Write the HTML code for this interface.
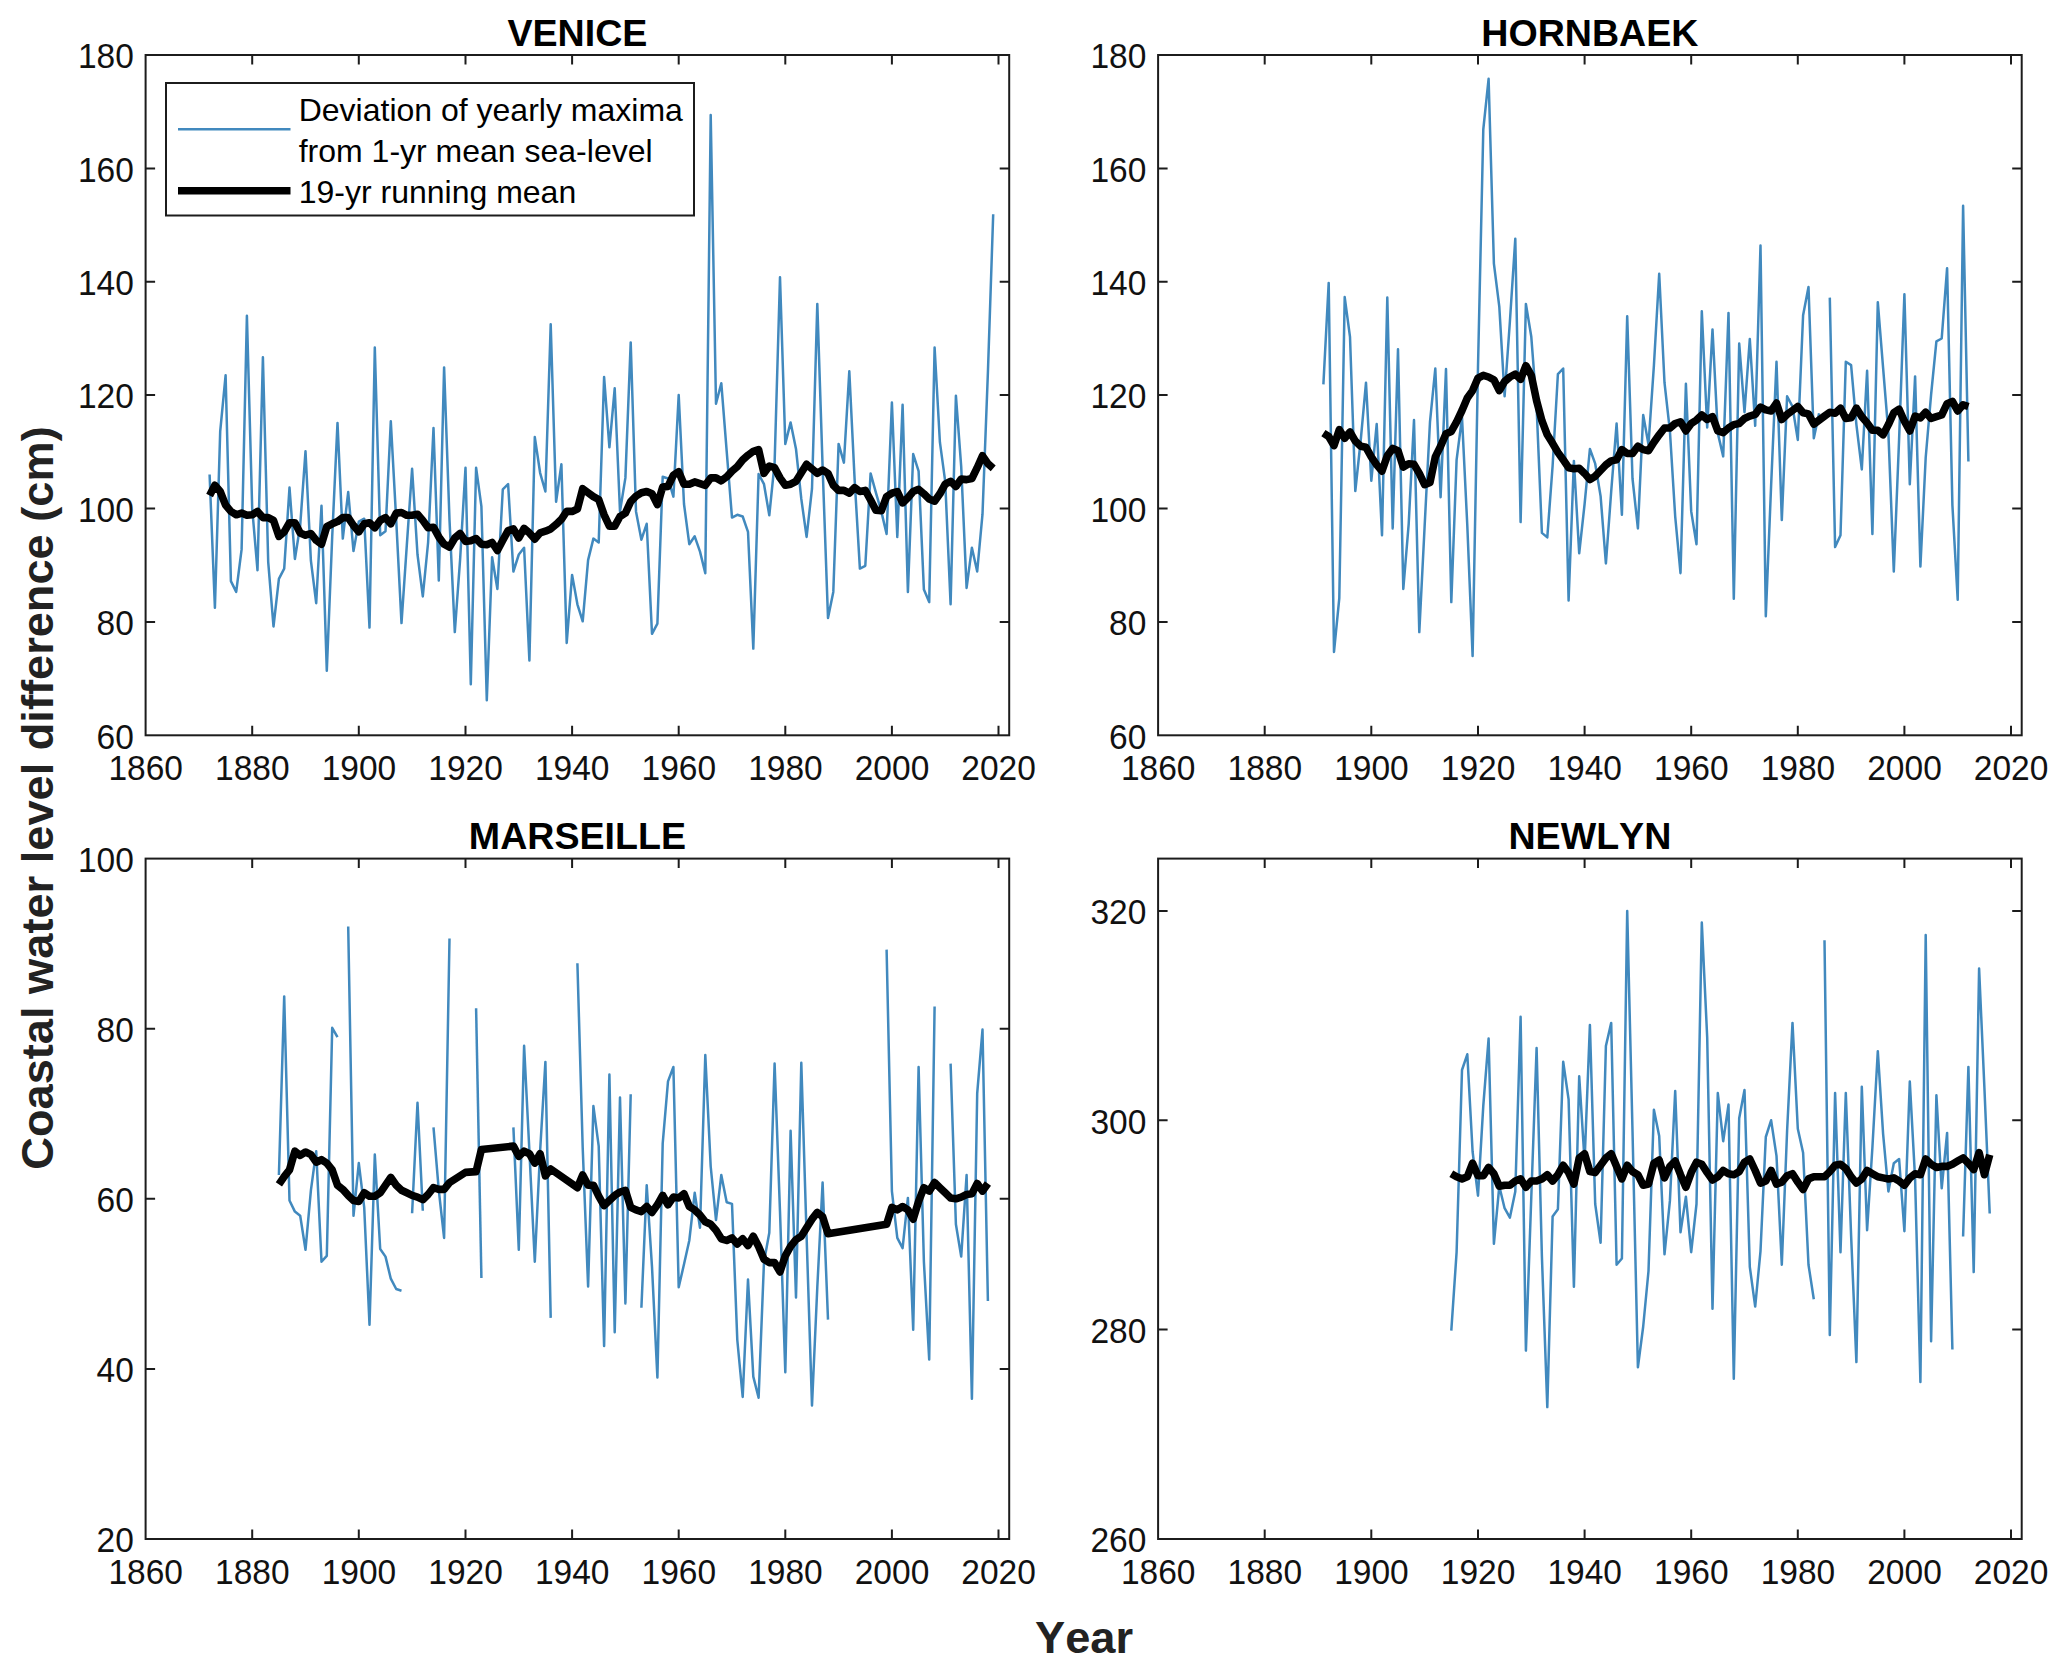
<!DOCTYPE html><html><head><meta charset="utf-8"><title>Coastal water level difference</title>
<style>html,body{margin:0;padding:0;background:#fff}svg{display:block}text{font-kerning:none;font-family:"Liberation Sans",Arial,Helvetica,sans-serif}</style></head><body>
<svg width="2067" height="1674" viewBox="0 0 2067 1674">
<rect width="2067" height="1674" fill="#fff"/>
<g>
<polyline points="209.6,474.5 214.9,607.7 220.2,431.4 225.6,375.3 230.9,581.1 236.2,591.9 241.6,549.4 246.9,315.8 252.2,508.5 257.5,570.3 262.9,357.2 268.2,561.8 273.5,626.5 278.9,578.8 284.2,568.6 289.5,487.6 294.9,559.0 300.2,525.5 305.5,451.3 310.9,560.7 316.2,603.2 321.5,505.7 326.8,670.7 332.2,536.9 337.5,422.9 342.8,538.6 348.2,492.1 353.5,551.1 358.8,521.6 364.2,518.7 369.5,627.6 374.8,347.5 380.2,535.2 385.5,531.2 390.8,421.2 396.2,519.9 401.5,623.1 406.8,545.4 412.1,468.8 417.5,554.5 422.8,596.4 428.1,542.5 433.5,428.0 438.8,580.5 444.1,367.4 449.5,519.9 454.8,632.1 460.1,559.6 465.5,467.7 470.8,684.3 476.1,467.7 481.4,506.3 486.8,700.2 492.1,557.3 497.4,589.0 502.8,489.3 508.1,484.2 513.4,571.5 518.8,554.5 524.1,547.7 529.4,660.5 534.8,437.1 540.1,472.8 545.4,491.5 550.7,324.3 556.1,501.7 561.4,464.3 566.7,642.9 572.1,574.9 577.4,604.3 582.7,621.3 588.1,560.1 593.4,538.6 598.7,542.5 604.1,377.0 609.4,447.3 614.7,388.3 620.0,511.4 625.4,477.9 630.7,342.4 636.0,511.4 641.4,539.7 646.7,523.8 652.0,633.8 657.4,623.6 662.7,476.8 668.0,478.5 673.4,496.6 678.7,395.1 684.0,504.0 689.3,544.2 694.7,536.3 700.0,551.6 705.3,573.2 710.7,115.1 716.0,403.7 721.3,383.2 726.7,451.3 732.0,517.6 737.3,514.8 742.7,516.5 748.0,531.8 753.3,648.6 758.6,474.0 764.0,484.2 769.3,515.3 774.6,463.2 780.0,277.2 785.3,443.9 790.6,422.4 796.0,449.0 801.3,498.9 806.6,536.9 812.0,488.7 817.3,303.9 822.6,466.6 828.0,617.9 833.3,591.9 838.6,443.9 843.9,462.6 849.3,371.3 854.6,479.1 859.9,568.6 865.3,565.8 870.6,473.4 875.9,492.7 881.3,511.4 886.6,534.0 891.9,402.5 897.3,536.9 902.6,404.8 907.9,591.9 913.2,454.1 918.6,471.1 923.9,589.6 929.2,602.1 934.6,347.5 939.9,442.2 945.2,481.3 950.6,604.3 955.9,395.7 961.2,466.6 966.6,587.9 971.9,547.7 977.2,571.5 982.5,514.2 987.9,372.5 993.2,214.3" fill="none" stroke="#4189BE" stroke-width="2.5" stroke-linejoin="round" />
<polyline points="209.6,495.5 214.9,485.3 220.2,491.5 225.6,505.1 230.9,511.4 236.2,514.8 241.6,513.1 246.9,515.3 252.2,514.8 257.5,511.4 262.9,517.6 268.2,517.6 273.5,520.4 278.9,536.3 284.2,531.8 289.5,522.7 294.9,522.7 300.2,532.9 305.5,535.2 310.9,533.5 316.2,540.3 321.5,544.2 326.8,526.7 332.2,523.8 337.5,521.6 342.8,517.6 348.2,517.6 353.5,525.5 358.8,531.8 364.2,523.8 369.5,522.7 374.8,527.8 380.2,520.4 385.5,517.6 390.8,523.8 396.2,513.1 401.5,512.5 406.8,515.3 412.1,515.3 417.5,514.2 422.8,520.4 428.1,527.8 433.5,527.2 438.8,536.9 444.1,544.2 449.5,547.1 454.8,538.0 460.1,533.5 465.5,541.4 470.8,540.8 476.1,538.6 481.4,544.2 486.8,544.8 492.1,542.5 497.4,550.5 502.8,540.3 508.1,530.6 513.4,528.9 518.8,538.0 524.1,528.4 529.4,532.9 534.8,539.1 540.1,532.9 545.4,531.2 550.7,528.9 556.1,524.4 561.4,519.3 566.7,511.4 572.1,511.4 577.4,509.1 582.7,488.7 588.1,492.7 593.4,496.6 598.7,499.5 604.1,514.8 609.4,526.1 614.7,526.1 620.0,516.5 625.4,513.1 630.7,501.7 636.0,496.1 641.4,492.7 646.7,491.5 652.0,493.8 657.4,504.6 662.7,487.0 668.0,486.4 673.4,475.1 678.7,471.7 684.0,484.2 689.3,484.2 694.7,481.9 700.0,483.6 705.3,485.3 710.7,477.9 716.0,477.9 721.3,480.8 726.7,476.8 732.0,471.1 737.3,466.6 742.7,459.8 748.0,455.2 753.3,451.3 758.6,449.6 764.0,473.4 769.3,466.0 774.6,467.7 780.0,477.9 785.3,485.3 790.6,484.2 796.0,481.3 801.3,472.8 806.6,464.3 812.0,468.8 817.3,473.4 822.6,470.0 828.0,473.4 833.3,485.3 838.6,490.4 843.9,490.4 849.3,493.2 854.6,487.6 859.9,491.5 865.3,490.4 870.6,500.0 875.9,510.2 881.3,510.8 886.6,496.6 891.9,493.2 897.3,491.5 902.6,502.9 907.9,497.8 913.2,491.5 918.6,489.3 923.9,493.8 929.2,498.9 934.6,501.2 939.9,493.8 945.2,484.2 950.6,481.3 955.9,486.4 961.2,479.1 966.6,479.6 971.9,478.5 977.2,467.7 982.5,455.8 987.9,463.7 993.2,468.3" fill="none" stroke="#000" stroke-width="7.6" stroke-linejoin="round" />
<rect x="145.6" y="55.0" width="863.6" height="680.3" fill="none" stroke="#1c1c1c" stroke-width="2"/>
<text transform="translate(145.7,780.3) scale(0.9306,1)" font-size="36" text-anchor="middle" fill="#111">1860</text>
<text transform="translate(252.3,780.3) scale(0.9306,1)" font-size="36" text-anchor="middle" fill="#111">1880</text>
<text transform="translate(358.9,780.3) scale(0.9306,1)" font-size="36" text-anchor="middle" fill="#111">1900</text>
<text transform="translate(465.6,780.3) scale(0.9306,1)" font-size="36" text-anchor="middle" fill="#111">1920</text>
<text transform="translate(572.2,780.3) scale(0.9306,1)" font-size="36" text-anchor="middle" fill="#111">1940</text>
<text transform="translate(678.8,780.3) scale(0.9306,1)" font-size="36" text-anchor="middle" fill="#111">1960</text>
<text transform="translate(785.4,780.3) scale(0.9306,1)" font-size="36" text-anchor="middle" fill="#111">1980</text>
<text transform="translate(892.0,780.3) scale(0.9306,1)" font-size="36" text-anchor="middle" fill="#111">2000</text>
<text transform="translate(998.6,780.3) scale(0.9306,1)" font-size="36" text-anchor="middle" fill="#111">2020</text>
<text transform="translate(133.8,748.5) scale(0.9306,1)" font-size="36" text-anchor="end" fill="#111">60</text>
<text transform="translate(133.8,635.1) scale(0.9306,1)" font-size="36" text-anchor="end" fill="#111">80</text>
<text transform="translate(133.8,521.7) scale(0.9306,1)" font-size="36" text-anchor="end" fill="#111">100</text>
<text transform="translate(133.8,408.3) scale(0.9306,1)" font-size="36" text-anchor="end" fill="#111">120</text>
<text transform="translate(133.8,295.0) scale(0.9306,1)" font-size="36" text-anchor="end" fill="#111">140</text>
<text transform="translate(133.8,181.6) scale(0.9306,1)" font-size="36" text-anchor="end" fill="#111">160</text>
<text transform="translate(133.8,68.2) scale(0.9306,1)" font-size="36" text-anchor="end" fill="#111">180</text>
<path d="M252.2 735.3v-9.5M252.2 55.0v9.5M358.8 735.3v-9.5M358.8 55.0v9.5M465.5 735.3v-9.5M465.5 55.0v9.5M572.1 735.3v-9.5M572.1 55.0v9.5M678.7 735.3v-9.5M678.7 55.0v9.5M785.3 735.3v-9.5M785.3 55.0v9.5M891.9 735.3v-9.5M891.9 55.0v9.5M998.5 735.3v-9.5M998.5 55.0v9.5M145.6 621.9h9.5M1009.2 621.9h-9.5M145.6 508.5h9.5M1009.2 508.5h-9.5M145.6 395.1h9.5M1009.2 395.1h-9.5M145.6 281.8h9.5M1009.2 281.8h-9.5M145.6 168.4h9.5M1009.2 168.4h-9.5" stroke="#1c1c1c" stroke-width="2" fill="none"/>
<text x="577.4" y="45.5" font-size="37.6" font-weight="bold" text-anchor="middle" fill="#000">VENICE</text>
</g>
<g>
<polyline points="1323.4,384.4 1328.7,282.9 1334.0,652.0 1339.3,598.1 1344.7,297.1 1350.0,336.8 1355.3,491.0 1360.7,440.5 1366.0,382.7 1371.3,480.8 1376.7,424.1 1382.0,535.2 1387.3,297.6 1392.7,528.4 1398.0,349.2 1403.3,589.0 1408.7,523.8 1414.0,420.1 1419.3,632.1 1424.6,526.7 1430.0,421.8 1435.3,368.5 1440.6,497.2 1446.0,369.1 1451.3,602.1 1456.6,459.8 1462.0,417.3 1467.3,525.5 1472.6,655.9 1478.0,366.8 1483.3,129.3 1488.6,78.8 1493.9,263.6 1499.3,306.7 1504.6,396.3 1509.9,321.5 1515.3,238.7 1520.6,522.1 1525.9,303.9 1531.3,336.8 1536.6,406.5 1541.9,532.9 1547.3,537.4 1552.6,466.0 1557.9,374.2 1563.2,368.5 1568.6,600.4 1573.9,460.9 1579.2,553.3 1584.6,504.0 1589.9,449.0 1595.2,463.7 1600.6,496.1 1605.9,563.5 1611.2,491.5 1616.6,423.5 1621.9,514.8 1627.2,316.3 1632.5,478.5 1637.9,528.4 1643.2,415.0 1648.5,444.5 1653.9,365.7 1659.2,273.8 1664.5,382.7 1669.9,430.9 1675.2,516.5 1680.5,573.2 1685.9,383.8 1691.2,511.4 1696.5,544.2 1701.8,311.2 1707.2,427.5 1712.5,329.4 1717.8,433.1 1723.2,456.4 1728.5,312.9 1733.8,598.7 1739.2,343.6 1744.5,412.2 1749.8,339.0 1755.2,425.8 1760.5,245.5 1765.8,616.2 1771.1,485.9 1776.5,361.7 1781.8,519.9 1787.1,396.3 1792.5,406.5 1797.8,439.9 1803.1,315.2 1808.5,286.9 1813.8,438.2 1819.1,413.3" fill="none" stroke="#4189BE" stroke-width="2.5" stroke-linejoin="round" />
<polyline points="1829.8,297.6 1835.1,547.1 1840.5,535.2 1845.8,361.7 1851.1,365.1 1856.4,424.6 1861.8,469.4 1867.1,370.8 1872.4,534.0 1877.8,302.2 1883.1,367.9 1888.4,433.1 1893.8,571.5 1899.1,439.4 1904.4,294.2 1909.8,484.2 1915.1,376.4 1920.4,566.4 1925.7,457.5 1931.1,394.6 1936.4,341.3 1941.7,338.5 1947.1,268.2 1952.4,505.1 1957.7,599.8 1963.1,205.8 1968.4,461.5" fill="none" stroke="#4189BE" stroke-width="2.5" stroke-linejoin="round" />
<polyline points="1323.4,433.1 1328.7,436.5 1334.0,445.6 1339.3,429.7 1344.7,438.2 1350.0,432.0 1355.3,441.1 1360.7,446.2 1366.0,447.3 1371.3,456.9 1376.7,464.9 1382.0,471.1 1387.3,455.8 1392.7,448.4 1398.0,450.7 1403.3,467.1 1408.7,463.7 1414.0,464.3 1419.3,473.4 1424.6,484.7 1430.0,482.5 1435.3,456.9 1440.6,446.2 1446.0,433.7 1451.3,431.4 1456.6,421.8 1462.0,410.5 1467.3,398.0 1472.6,390.6 1478.0,378.1 1483.3,375.3 1488.6,377.0 1493.9,379.8 1499.3,390.6 1504.6,381.5 1509.9,377.0 1515.3,374.2 1520.6,379.3 1525.9,365.7 1531.3,375.3 1536.6,400.8 1541.9,420.7 1547.3,434.8 1552.6,443.3 1557.9,452.4 1563.2,459.8 1568.6,467.7 1573.9,468.8 1579.2,468.3 1584.6,473.4 1589.9,479.6 1595.2,476.2 1600.6,470.5 1605.9,464.9 1611.2,460.9 1616.6,459.8 1621.9,449.6 1627.2,453.5 1632.5,453.5 1637.9,446.2 1643.2,449.6 1648.5,450.7 1653.9,442.2 1659.2,434.8 1664.5,428.0 1669.9,428.0 1675.2,423.5 1680.5,421.8 1685.9,430.9 1691.2,423.5 1696.5,420.1 1701.8,415.0 1707.2,419.5 1712.5,416.7 1717.8,430.9 1723.2,432.6 1728.5,428.0 1733.8,424.6 1739.2,423.5 1744.5,418.4 1749.8,416.1 1755.2,414.4 1760.5,407.1 1765.8,409.9 1771.1,411.0 1776.5,403.1 1781.8,419.5 1787.1,414.4 1792.5,410.5 1797.8,406.5 1803.1,412.7 1808.5,413.9 1813.8,424.1 1819.1,420.1 1824.5,416.1 1829.8,412.2 1835.1,413.3 1840.5,408.2 1845.8,418.4 1851.1,417.8 1856.4,408.2 1861.8,416.7 1867.1,422.9 1872.4,430.3 1877.8,430.3 1883.1,434.8 1888.4,424.6 1893.8,412.7 1899.1,409.3 1904.4,421.2 1909.8,430.9 1915.1,416.1 1920.4,417.8 1925.7,412.2 1931.1,418.4 1936.4,416.7 1941.7,415.0 1947.1,403.7 1952.4,401.4 1957.7,411.0 1963.1,404.8 1968.4,406.5" fill="none" stroke="#000" stroke-width="7.6" stroke-linejoin="round" />
<rect x="1158.1" y="55.0" width="863.6" height="680.3" fill="none" stroke="#1c1c1c" stroke-width="2"/>
<text transform="translate(1158.2,780.3) scale(0.9306,1)" font-size="36" text-anchor="middle" fill="#111">1860</text>
<text transform="translate(1264.8,780.3) scale(0.9306,1)" font-size="36" text-anchor="middle" fill="#111">1880</text>
<text transform="translate(1371.4,780.3) scale(0.9306,1)" font-size="36" text-anchor="middle" fill="#111">1900</text>
<text transform="translate(1478.1,780.3) scale(0.9306,1)" font-size="36" text-anchor="middle" fill="#111">1920</text>
<text transform="translate(1584.7,780.3) scale(0.9306,1)" font-size="36" text-anchor="middle" fill="#111">1940</text>
<text transform="translate(1691.3,780.3) scale(0.9306,1)" font-size="36" text-anchor="middle" fill="#111">1960</text>
<text transform="translate(1797.9,780.3) scale(0.9306,1)" font-size="36" text-anchor="middle" fill="#111">1980</text>
<text transform="translate(1904.5,780.3) scale(0.9306,1)" font-size="36" text-anchor="middle" fill="#111">2000</text>
<text transform="translate(2011.1,780.3) scale(0.9306,1)" font-size="36" text-anchor="middle" fill="#111">2020</text>
<text transform="translate(1146.3,748.5) scale(0.9306,1)" font-size="36" text-anchor="end" fill="#111">60</text>
<text transform="translate(1146.3,635.1) scale(0.9306,1)" font-size="36" text-anchor="end" fill="#111">80</text>
<text transform="translate(1146.3,521.7) scale(0.9306,1)" font-size="36" text-anchor="end" fill="#111">100</text>
<text transform="translate(1146.3,408.3) scale(0.9306,1)" font-size="36" text-anchor="end" fill="#111">120</text>
<text transform="translate(1146.3,295.0) scale(0.9306,1)" font-size="36" text-anchor="end" fill="#111">140</text>
<text transform="translate(1146.3,181.6) scale(0.9306,1)" font-size="36" text-anchor="end" fill="#111">160</text>
<text transform="translate(1146.3,68.2) scale(0.9306,1)" font-size="36" text-anchor="end" fill="#111">180</text>
<path d="M1264.7 735.3v-9.5M1264.7 55.0v9.5M1371.3 735.3v-9.5M1371.3 55.0v9.5M1478.0 735.3v-9.5M1478.0 55.0v9.5M1584.6 735.3v-9.5M1584.6 55.0v9.5M1691.2 735.3v-9.5M1691.2 55.0v9.5M1797.8 735.3v-9.5M1797.8 55.0v9.5M1904.4 735.3v-9.5M1904.4 55.0v9.5M2011.0 735.3v-9.5M2011.0 55.0v9.5M1158.1 621.9h9.5M2021.7 621.9h-9.5M1158.1 508.5h9.5M2021.7 508.5h-9.5M1158.1 395.1h9.5M2021.7 395.1h-9.5M1158.1 281.8h9.5M2021.7 281.8h-9.5M1158.1 168.4h9.5M2021.7 168.4h-9.5" stroke="#1c1c1c" stroke-width="2" fill="none"/>
<text x="1589.9" y="45.5" font-size="37.6" font-weight="bold" text-anchor="middle" fill="#000">HORNBAEK</text>
</g>
<g>
<polyline points="278.9,1175.0 284.2,996.4 289.5,1200.5 294.9,1211.6 300.2,1215.8 305.5,1249.8 310.9,1190.3 316.2,1151.2 321.5,1261.7 326.8,1255.8 332.2,1027.8 337.5,1037.2" fill="none" stroke="#4189BE" stroke-width="2.5" stroke-linejoin="round" />
<polyline points="348.2,926.6 353.5,1215.8 358.8,1163.1 364.2,1207.3 369.5,1324.7 374.8,1154.6 380.2,1249.0 385.5,1256.6 390.8,1278.7 396.2,1289.0 401.5,1290.7" fill="none" stroke="#4189BE" stroke-width="2.5" stroke-linejoin="round" />
<polyline points="412.1,1213.3 417.5,1102.7 422.8,1210.7" fill="none" stroke="#4189BE" stroke-width="2.5" stroke-linejoin="round" />
<polyline points="433.5,1127.4 438.8,1190.3 444.1,1237.9 449.5,938.5" fill="none" stroke="#4189BE" stroke-width="2.5" stroke-linejoin="round" />
<polyline points="476.1,1008.3 481.4,1277.9" fill="none" stroke="#4189BE" stroke-width="2.5" stroke-linejoin="round" />
<polyline points="513.4,1127.4 518.8,1249.8 524.1,1045.7 529.4,1151.2 534.8,1261.7 540.1,1151.2 545.4,1061.9 550.7,1317.9" fill="none" stroke="#4189BE" stroke-width="2.5" stroke-linejoin="round" />
<polyline points="577.4,963.2 582.7,1147.8 588.1,1286.4 593.4,1106.1 598.7,1146.1 604.1,1345.9 609.4,1074.6 614.7,1332.3 620.0,1097.6 625.4,1303.4 630.7,1094.2" fill="none" stroke="#4189BE" stroke-width="2.5" stroke-linejoin="round" />
<polyline points="641.4,1307.7 646.7,1185.2 652.0,1266.8 657.4,1377.4 662.7,1143.5 668.0,1081.4 673.4,1067.0 678.7,1287.3 684.0,1264.3 689.3,1240.5 694.7,1192.8 700.0,1227.7 705.3,1055.1 710.7,1166.5 716.0,1220.1 721.3,1175.0 726.7,1202.2 732.0,1203.9 737.3,1340.0 742.7,1397.0 748.0,1279.6 753.3,1376.6 758.6,1397.8 764.0,1261.7 769.3,1232.8 774.6,1063.6 780.0,1211.6 785.3,1372.3 790.6,1130.8 796.0,1297.5 801.3,1062.7 806.6,1236.2 812.0,1405.5 817.3,1287.3 822.6,1182.6 828.0,1319.6" fill="none" stroke="#4189BE" stroke-width="2.5" stroke-linejoin="round" />
<polyline points="886.6,949.6 891.9,1191.1 897.3,1237.9 902.6,1248.1 907.9,1197.9 913.2,1329.8 918.6,1067.0 923.9,1261.7 929.2,1359.5 934.6,1006.6" fill="none" stroke="#4189BE" stroke-width="2.5" stroke-linejoin="round" />
<polyline points="950.6,1063.6 955.9,1224.3 961.2,1256.6 966.6,1175.0 971.9,1398.7 977.2,1093.3 982.5,1029.6 987.9,1300.9" fill="none" stroke="#4189BE" stroke-width="2.5" stroke-linejoin="round" />
<polyline points="278.9,1184.3 284.2,1176.7 289.5,1169.9 294.9,1151.2 300.2,1155.4 305.5,1152.0 310.9,1154.6 316.2,1162.2 321.5,1159.7 326.8,1163.1 332.2,1169.9 337.5,1185.2 342.8,1189.4 348.2,1195.4 353.5,1200.5 358.8,1201.4 364.2,1192.8 369.5,1196.2 374.8,1196.2 380.2,1192.8 385.5,1185.2 390.8,1177.5 396.2,1185.2 401.5,1190.3 406.8,1192.8 412.1,1195.4 417.5,1197.1 422.8,1199.7 428.1,1194.5 433.5,1187.7 438.8,1189.4 444.1,1189.4 449.5,1182.6 465.5,1172.4 476.1,1171.6 481.4,1149.5 513.4,1146.1 518.8,1156.3 524.1,1151.2 529.4,1153.7 534.8,1163.1 540.1,1153.7 545.4,1175.8 550.7,1169.0 577.4,1187.7 582.7,1175.0 588.1,1185.2 593.4,1185.2 598.7,1196.2 604.1,1205.6 609.4,1200.5 614.7,1195.4 620.0,1192.0 625.4,1190.3 630.7,1207.3 636.0,1209.9 641.4,1211.6 646.7,1206.5 652.0,1212.4 657.4,1204.8 662.7,1195.4 668.0,1204.8 673.4,1197.1 678.7,1197.9 684.0,1193.7 689.3,1206.5 694.7,1209.9 700.0,1215.0 705.3,1221.8 710.7,1224.3 716.0,1230.3 721.3,1238.8 726.7,1240.5 732.0,1237.9 737.3,1243.9 742.7,1238.8 748.0,1245.6 753.3,1236.2 758.6,1246.4 764.0,1259.2 769.3,1262.6 774.6,1262.6 780.0,1271.9 785.3,1255.8 790.6,1246.4 796.0,1239.6 801.3,1236.2 806.6,1227.7 812.0,1219.2 817.3,1212.4 822.6,1216.7 828.0,1233.7 886.6,1224.3 891.9,1207.3 897.3,1209.9 902.6,1206.5 907.9,1209.9 913.2,1219.2 918.6,1201.4 923.9,1187.7 929.2,1191.1 934.6,1182.6 939.9,1187.7 945.2,1192.8 950.6,1197.9 955.9,1198.8 961.2,1197.1 966.6,1194.5 971.9,1193.7 977.2,1183.5 982.5,1191.1 987.9,1183.5" fill="none" stroke="#000" stroke-width="7.6" stroke-linejoin="round" />
<rect x="145.6" y="858.6" width="863.6" height="680.4" fill="none" stroke="#1c1c1c" stroke-width="2"/>
<text transform="translate(145.7,1584.0) scale(0.9306,1)" font-size="36" text-anchor="middle" fill="#111">1860</text>
<text transform="translate(252.3,1584.0) scale(0.9306,1)" font-size="36" text-anchor="middle" fill="#111">1880</text>
<text transform="translate(358.9,1584.0) scale(0.9306,1)" font-size="36" text-anchor="middle" fill="#111">1900</text>
<text transform="translate(465.6,1584.0) scale(0.9306,1)" font-size="36" text-anchor="middle" fill="#111">1920</text>
<text transform="translate(572.2,1584.0) scale(0.9306,1)" font-size="36" text-anchor="middle" fill="#111">1940</text>
<text transform="translate(678.8,1584.0) scale(0.9306,1)" font-size="36" text-anchor="middle" fill="#111">1960</text>
<text transform="translate(785.4,1584.0) scale(0.9306,1)" font-size="36" text-anchor="middle" fill="#111">1980</text>
<text transform="translate(892.0,1584.0) scale(0.9306,1)" font-size="36" text-anchor="middle" fill="#111">2000</text>
<text transform="translate(998.6,1584.0) scale(0.9306,1)" font-size="36" text-anchor="middle" fill="#111">2020</text>
<text transform="translate(133.8,1552.2) scale(0.9306,1)" font-size="36" text-anchor="end" fill="#111">20</text>
<text transform="translate(133.8,1382.1) scale(0.9306,1)" font-size="36" text-anchor="end" fill="#111">40</text>
<text transform="translate(133.8,1212.0) scale(0.9306,1)" font-size="36" text-anchor="end" fill="#111">60</text>
<text transform="translate(133.8,1041.9) scale(0.9306,1)" font-size="36" text-anchor="end" fill="#111">80</text>
<text transform="translate(133.8,871.8) scale(0.9306,1)" font-size="36" text-anchor="end" fill="#111">100</text>
<path d="M252.2 1539.0v-9.5M252.2 858.6v9.5M358.8 1539.0v-9.5M358.8 858.6v9.5M465.5 1539.0v-9.5M465.5 858.6v9.5M572.1 1539.0v-9.5M572.1 858.6v9.5M678.7 1539.0v-9.5M678.7 858.6v9.5M785.3 1539.0v-9.5M785.3 858.6v9.5M891.9 1539.0v-9.5M891.9 858.6v9.5M998.5 1539.0v-9.5M998.5 858.6v9.5M145.6 1368.9h9.5M1009.2 1368.9h-9.5M145.6 1198.8h9.5M1009.2 1198.8h-9.5M145.6 1028.7h9.5M1009.2 1028.7h-9.5" stroke="#1c1c1c" stroke-width="2" fill="none"/>
<text x="577.4" y="849.1" font-size="37.6" font-weight="bold" text-anchor="middle" fill="#000">MARSEILLE</text>
</g>
<g>
<polyline points="1451.3,1330.7 1456.6,1252.2 1462.0,1070.0 1467.3,1054.3 1472.6,1151.7 1478.0,1195.7 1483.3,1105.6 1488.6,1038.6 1493.9,1243.8 1499.3,1186.2 1504.6,1208.2 1509.9,1217.6 1515.3,1191.5 1520.6,1016.7 1525.9,1350.6 1531.3,1196.7 1536.6,1048.1 1541.9,1256.4 1547.3,1407.1 1552.6,1216.6 1557.9,1209.3 1563.2,1061.7 1568.6,1099.4 1573.9,1286.7 1579.2,1076.3 1584.6,1161.1 1589.9,1025.0 1595.2,1204.0 1600.6,1242.8 1605.9,1046.0 1611.2,1022.9 1616.6,1264.7 1621.9,1258.5 1627.2,910.9 1632.5,1130.8 1637.9,1367.3 1643.2,1326.5 1648.5,1271.0 1653.9,1109.8 1659.2,1136.0 1664.5,1254.3 1669.9,1200.9 1675.2,1091.0 1680.5,1232.3 1685.9,1196.7 1691.2,1252.2 1696.5,1204.0 1701.8,922.5 1707.2,1037.6 1712.5,1308.7 1717.8,1093.1 1723.2,1141.2 1728.5,1104.6 1733.8,1378.8 1739.2,1118.2 1744.5,1089.9 1749.8,1266.8 1755.2,1306.6 1760.5,1251.1 1765.8,1137.0 1771.1,1120.3 1776.5,1155.9 1781.8,1264.7 1787.1,1130.8 1792.5,1022.9 1797.8,1128.7 1803.1,1152.7 1808.5,1264.7 1813.8,1299.3" fill="none" stroke="#4189BE" stroke-width="2.5" stroke-linejoin="round" />
<polyline points="1824.5,940.2 1829.8,1334.9 1835.1,1093.1 1840.5,1252.2 1845.8,1093.1 1851.1,1235.4 1856.4,1362.1 1861.8,1086.8 1867.1,1230.2 1872.4,1147.5 1877.8,1051.2 1883.1,1133.9 1888.4,1191.5 1893.8,1163.2 1899.1,1159.0 1904.4,1231.2 1909.8,1081.6 1915.1,1178.9 1920.4,1382.0 1925.7,935.0 1931.1,1341.2 1936.4,1095.2 1941.7,1188.3 1947.1,1132.9 1952.4,1349.5" fill="none" stroke="#4189BE" stroke-width="2.5" stroke-linejoin="round" />
<polyline points="1963.1,1236.5 1968.4,1066.9 1973.7,1272.1 1979.1,968.5 1984.4,1087.8 1989.7,1213.5" fill="none" stroke="#4189BE" stroke-width="2.5" stroke-linejoin="round" />
<polyline points="1451.3,1173.7 1456.6,1176.8 1462.0,1178.9 1467.3,1176.8 1472.6,1163.2 1478.0,1175.8 1483.3,1175.8 1488.6,1167.4 1493.9,1173.7 1499.3,1186.2 1504.6,1185.2 1509.9,1185.2 1515.3,1181.0 1520.6,1178.9 1525.9,1187.3 1531.3,1181.0 1536.6,1181.0 1541.9,1178.9 1547.3,1174.7 1552.6,1181.0 1557.9,1174.7 1563.2,1165.3 1568.6,1172.6 1573.9,1184.1 1579.2,1158.0 1584.6,1153.8 1589.9,1171.6 1595.2,1172.6 1600.6,1165.3 1605.9,1158.0 1611.2,1153.8 1616.6,1166.4 1621.9,1178.9 1627.2,1165.3 1632.5,1171.6 1637.9,1174.7 1643.2,1185.2 1648.5,1184.1 1653.9,1163.2 1659.2,1160.1 1664.5,1177.9 1669.9,1166.4 1675.2,1161.1 1680.5,1174.7 1685.9,1187.3 1691.2,1172.6 1696.5,1162.2 1701.8,1164.3 1707.2,1172.6 1712.5,1180.0 1717.8,1176.8 1723.2,1170.5 1728.5,1173.7 1733.8,1174.7 1739.2,1171.6 1744.5,1162.2 1749.8,1159.0 1755.2,1170.5 1760.5,1183.1 1765.8,1181.0 1771.1,1170.5 1776.5,1184.1 1781.8,1182.1 1787.1,1175.8 1792.5,1173.7 1797.8,1182.1 1803.1,1189.4 1808.5,1178.9 1813.8,1176.8 1819.1,1176.8 1824.5,1176.8 1829.8,1171.6 1835.1,1165.3 1840.5,1164.3 1845.8,1168.4 1851.1,1176.8 1856.4,1183.1 1861.8,1178.9 1867.1,1170.5 1872.4,1173.7 1877.8,1176.8 1883.1,1177.9 1888.4,1178.9 1893.8,1177.9 1899.1,1181.0 1904.4,1185.2 1909.8,1177.9 1915.1,1173.7 1920.4,1174.7 1925.7,1159.0 1931.1,1164.3 1936.4,1167.4 1941.7,1166.4 1947.1,1166.4 1952.4,1164.3 1957.7,1161.1 1963.1,1158.0 1968.4,1163.2 1973.7,1169.5 1979.1,1152.7 1984.4,1174.7 1989.7,1154.8" fill="none" stroke="#000" stroke-width="7.6" stroke-linejoin="round" />
<rect x="1158.1" y="858.6" width="863.6" height="680.4" fill="none" stroke="#1c1c1c" stroke-width="2"/>
<text transform="translate(1158.2,1584.0) scale(0.9306,1)" font-size="36" text-anchor="middle" fill="#111">1860</text>
<text transform="translate(1264.8,1584.0) scale(0.9306,1)" font-size="36" text-anchor="middle" fill="#111">1880</text>
<text transform="translate(1371.4,1584.0) scale(0.9306,1)" font-size="36" text-anchor="middle" fill="#111">1900</text>
<text transform="translate(1478.1,1584.0) scale(0.9306,1)" font-size="36" text-anchor="middle" fill="#111">1920</text>
<text transform="translate(1584.7,1584.0) scale(0.9306,1)" font-size="36" text-anchor="middle" fill="#111">1940</text>
<text transform="translate(1691.3,1584.0) scale(0.9306,1)" font-size="36" text-anchor="middle" fill="#111">1960</text>
<text transform="translate(1797.9,1584.0) scale(0.9306,1)" font-size="36" text-anchor="middle" fill="#111">1980</text>
<text transform="translate(1904.5,1584.0) scale(0.9306,1)" font-size="36" text-anchor="middle" fill="#111">2000</text>
<text transform="translate(2011.1,1584.0) scale(0.9306,1)" font-size="36" text-anchor="middle" fill="#111">2020</text>
<text transform="translate(1146.3,1552.2) scale(0.9306,1)" font-size="36" text-anchor="end" fill="#111">260</text>
<text transform="translate(1146.3,1342.8) scale(0.9306,1)" font-size="36" text-anchor="end" fill="#111">280</text>
<text transform="translate(1146.3,1133.5) scale(0.9306,1)" font-size="36" text-anchor="end" fill="#111">300</text>
<text transform="translate(1146.3,924.1) scale(0.9306,1)" font-size="36" text-anchor="end" fill="#111">320</text>
<path d="M1264.7 1539.0v-9.5M1264.7 858.6v9.5M1371.3 1539.0v-9.5M1371.3 858.6v9.5M1478.0 1539.0v-9.5M1478.0 858.6v9.5M1584.6 1539.0v-9.5M1584.6 858.6v9.5M1691.2 1539.0v-9.5M1691.2 858.6v9.5M1797.8 1539.0v-9.5M1797.8 858.6v9.5M1904.4 1539.0v-9.5M1904.4 858.6v9.5M2011.0 1539.0v-9.5M2011.0 858.6v9.5M1158.1 1329.6h9.5M2021.7 1329.6h-9.5M1158.1 1120.3h9.5M2021.7 1120.3h-9.5M1158.1 910.9h9.5M2021.7 910.9h-9.5" stroke="#1c1c1c" stroke-width="2" fill="none"/>
<text x="1589.9" y="849.1" font-size="37.6" font-weight="bold" text-anchor="middle" fill="#000">NEWLYN</text>
</g>
<g>
<rect x="166" y="83" width="528" height="132.5" fill="#fff" stroke="#1c1c1c" stroke-width="2"/>
<line x1="178" y1="129.3" x2="290.5" y2="129.3" stroke="#4189BE" stroke-width="2.5"/>
<line x1="178" y1="190.7" x2="290.5" y2="190.7" stroke="#000" stroke-width="7.6"/>
<text x="298.7" y="120.5" font-size="32" fill="#000">Deviation of yearly maxima</text>
<text x="298.7" y="161.5" font-size="32" fill="#000">from 1-yr mean sea-level</text>
<text x="298.7" y="203" font-size="32" fill="#000">19-yr running mean</text>
</g>
<text x="1084" y="1653" font-size="45.2" font-weight="bold" text-anchor="middle" fill="#222">Year</text>
<text transform="translate(52.5,798) rotate(-90)" font-size="45.2" font-weight="bold" text-anchor="middle" fill="#222">Coastal water level difference (cm)</text>
</svg></body></html>
